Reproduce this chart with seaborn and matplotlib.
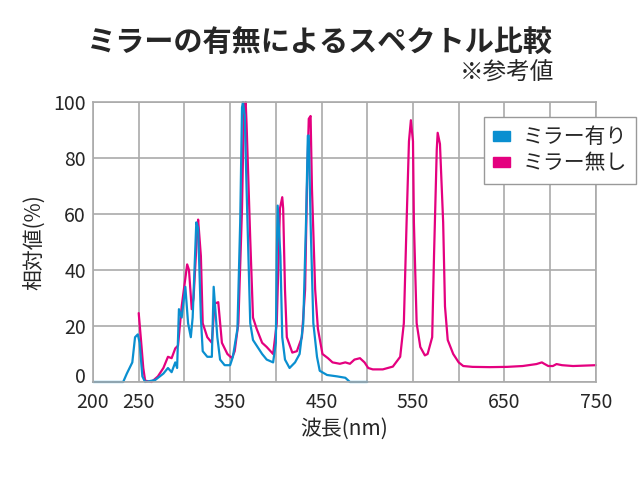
import seaborn as sns
import matplotlib.pyplot as plt
import pandas as pd
from matplotlib.patches import Patch
from matplotlib.transforms import ScaledTranslation

# ミラー有り (blue)
with_nm = [200, 233, 237, 243, 246, 249, 251, 254, 257, 268, 277, 282, 286, 290, 292,
           294, 297, 301, 304, 307, 309, 313, 315, 318, 320, 325, 330, 332, 336, 339,
           344, 350, 353, 358, 361, 363, 364, 366, 368, 372, 375, 379, 385, 390, 397,
           400, 401, 402, 405, 407, 410, 415, 421, 426, 430, 433, 435, 436, 438, 441,
           445, 448, 456, 467, 476, 481, 500]
with_val = [0, 0, 3, 7, 16, 17, 14, 2, 0, 0.7, 3, 5, 3.5, 7, 5,
            26, 23, 34, 21, 16, 23, 57, 55, 23, 11, 9, 9, 34, 16, 8,
            6, 6, 9, 19, 57, 98, 100, 95, 69, 21, 15, 13, 10, 8, 7,
            14, 45, 63, 45, 16, 8, 5, 7, 10, 21, 57, 88, 88, 57, 21,
            9, 4, 2.5, 2, 1.5, 0, 0]

# ミラー無し (pink)
without_nm = [250, 252.5, 255, 257, 264, 271, 277, 282, 286, 290, 293, 297, 301, 303,
              305, 308, 310, 314, 315, 318, 320, 325, 330, 333, 337, 341, 347, 352,
              355, 359, 363, 365, 367, 368, 372, 375, 379, 385, 390, 397, 401, 404.5,
              407, 408, 410, 412, 418, 423, 428.5, 432, 434, 436, 438, 439.5, 443, 446,
              451, 457, 462, 470, 476, 481, 486, 492, 497, 501, 506, 517, 528, 536,
              540, 543, 545.6, 547.7, 550, 551, 554, 558, 563, 566, 571, 573, 576,
              577, 579.5, 583, 585, 588, 594, 600, 605, 615, 634, 653, 670, 685, 691,
              693, 698, 703, 707, 713, 725, 750]
without_val = [24.6, 15, 5, 0.5, 0, 2, 5, 9, 8.5, 12, 13, 27, 37, 42,
               40, 26, 30, 54, 58, 45, 21, 16, 14, 28, 28.5, 14, 10, 8.5,
               11, 21, 62, 97, 100, 92, 51, 23, 19, 14, 12.5, 10, 21, 62,
               66, 62, 33, 16, 10.5, 11, 16, 33, 69, 94, 95, 69, 33, 19,
               10, 8.5, 7, 6.5, 7, 6.5, 8, 8.5, 7, 5, 4.5, 4.5, 5.5, 9,
               21, 57, 86, 93.5, 86, 57, 21, 12.5, 9.5, 10, 16, 45, 83,
               89, 85, 57, 27, 15, 10, 7, 5.7, 5.4, 5.3, 5.4, 5.7, 6.4, 7,
               6.6, 5.7, 5.7, 6.4, 6, 5.7, 6]

x_ticks = list(range(200, 751, 50))
x_labels = ['200', '250', '', '350', '', '450', '', '550', '', '650', '', '750']
y_ticks = [0, 20, 40, 60, 80, 100]

blue = '#0a8fd0'
pink = '#e4007f'

sns.set_style('white')
plt.rcParams['font.family'] = ['Noto Sans CJK JP', 'DejaVu Sans']

df_with = pd.DataFrame({'nm': with_nm, 'val': with_val})
df_without = pd.DataFrame({'nm': without_nm, 'val': without_val})

fig = plt.figure(figsize=(6.4, 4.8), dpi=100)
ax = fig.add_axes([0.1453, 0.2042, 0.7857, 0.5833])

sns.lineplot(data=df_without, x='nm', y='val', color=pink, linewidth=1.6, ax=ax, clip_on=False)
sns.lineplot(data=df_with, x='nm', y='val', color=blue, linewidth=1.6, ax=ax, clip_on=False)

ax.set_xlim(200, 750)
ax.set_ylim(0, 100)
ax.set_xticks(x_ticks)
ax.set_xticklabels(x_labels)
ax.set_yticks(y_ticks)
ax.grid(True, color='#aaaaaa', linewidth=1.2)
ax.set_axisbelow(True)
for s in ax.spines.values():
    s.set_color('#aaaaaa')
    s.set_linewidth(1.2)
ax.tick_params(length=0, labelsize=14, pad=5)
ax.tick_params(axis='x', pad=7)
ax.set_xlabel('波長(nm)', fontsize=15, labelpad=4)
ax.set_ylabel('相対値(%)', fontsize=15, labelpad=6)

# lift the "0" label a little so it clears the "200" below it
zero = ax.get_yticklabels()[0]
zero.set_transform(zero.get_transform() + ScaledTranslation(0, 5 / 72, fig.dpi_scale_trans))

handles = [Patch(color=blue, label='ミラー有り'), Patch(color=pink, label='ミラー無し')]
leg = ax.legend(handles=handles, loc='upper right', bbox_to_anchor=(1.08, 0.947),
                fontsize=15, handlelength=0.8, handleheight=0.4, handletextpad=0.6,
                borderpad=0.45, labelspacing=0.2, borderaxespad=0,
                fancybox=False, framealpha=1)
leg.get_frame().set_edgecolor('#999999')
leg.get_frame().set_linewidth(1.0)

fig.text(0.5, 0.912, 'ミラーの有無によるスペクトル比較', ha='center', va='center',
         fontsize=21, fontweight='bold')
fig.text(0.866, 0.848, '※参考値', ha='right', va='center', fontsize=17)

fig.savefig('out.png', dpi=100)
